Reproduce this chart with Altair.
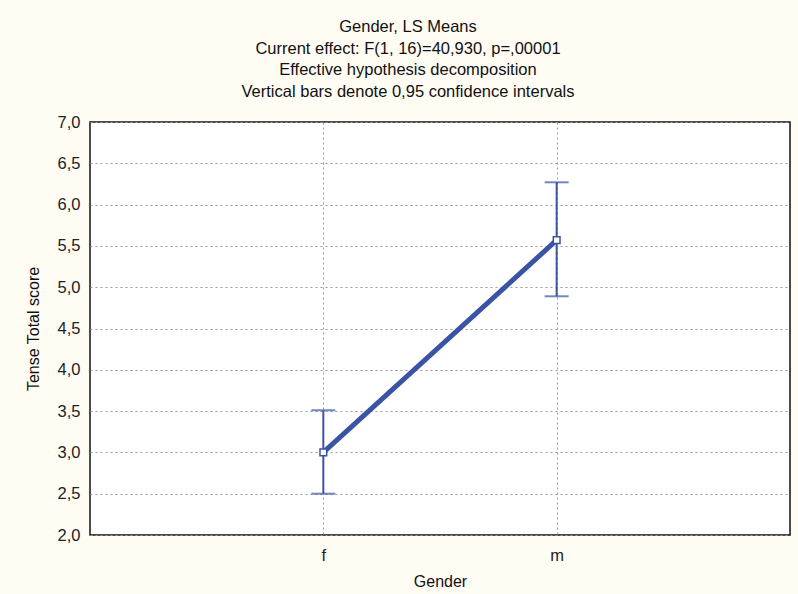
import altair as alt
import pandas as pd

gender = ["f", "m"]
mean = [3.0, 5.57]
lower = [2.5, 4.89]
upper = [3.51, 6.27]

df = pd.DataFrame({"Gender": gender, "mean": mean, "lower": lower, "upper": upper})

blue = "#3a53a4"
font = "Liberation Sans"

x = alt.X("Gender:N", scale=alt.Scale(type="point", padding=1),
          axis=alt.Axis(title="Gender", labelAngle=0, grid=True, gridDash=[2, 3],
                        gridColor="#999999", ticks=False, domain=False,
                        labelPadding=12, titlePadding=10))
yscale = alt.Scale(domain=[2, 7], nice=False, zero=False)
yaxis = alt.Axis(title="Tense Total score", values=[2, 2.5, 3, 3.5, 4, 4.5, 5, 5.5, 6, 6.5, 7],
                 labelExpr="replace(format(datum.value, '.1f'), '.', ',')",
                 grid=True, gridDash=[2, 3], gridColor="#999999", ticks=False, domain=False,
                 labelPadding=10, titlePadding=16)

base = alt.Chart(df)

rules = base.mark_rule(color=blue, strokeWidth=2).encode(
    x=x, y=alt.Y("lower:Q", scale=yscale, axis=yaxis), y2="upper:Q")
cap_hi = base.mark_tick(color=blue, thickness=2, size=24).encode(x=x, y=alt.Y("upper:Q", scale=yscale))
cap_lo = base.mark_tick(color=blue, thickness=2, size=24).encode(x=x, y=alt.Y("lower:Q", scale=yscale))
line = base.mark_line(color=blue, strokeWidth=5).encode(x=x, y=alt.Y("mean:Q", scale=yscale))
pts = base.mark_point(shape="square", filled=True, fill="white", stroke=blue, strokeWidth=1.5,
                      size=45, opacity=1).encode(x=x, y=alt.Y("mean:Q", scale=yscale))

chart = alt.layer(rules, cap_hi, cap_lo, line, pts).properties(
    width=700, height=413,
    autosize=alt.AutoSizeParams(type="none"),
    padding={"left": 90, "top": 122, "right": 8, "bottom": 59},
    background="#fffcf4",
    title=alt.TitleParams(
        text=["Gender, LS Means", "Current effect: F(1, 16)=40,930, p=,00001",
              "Effective hypothesis decomposition", "Vertical bars denote 0,95 confidence intervals"],
        font=font, fontSize=16.5, fontWeight="normal", color="#111111",
        lineHeight=21.5, offset=14, anchor="middle", dx=-32),
).configure_view(fill="white", stroke="#111111", strokeWidth=1.5).configure_axis(
    labelFont=font, titleFont=font, labelFontSize=16.5, titleFontSize=16,
    titleFontWeight="normal", labelColor="#222222", titleColor="#111111")

chart.save("out.html", embed_options={"renderer": "svg", "actions": False})
